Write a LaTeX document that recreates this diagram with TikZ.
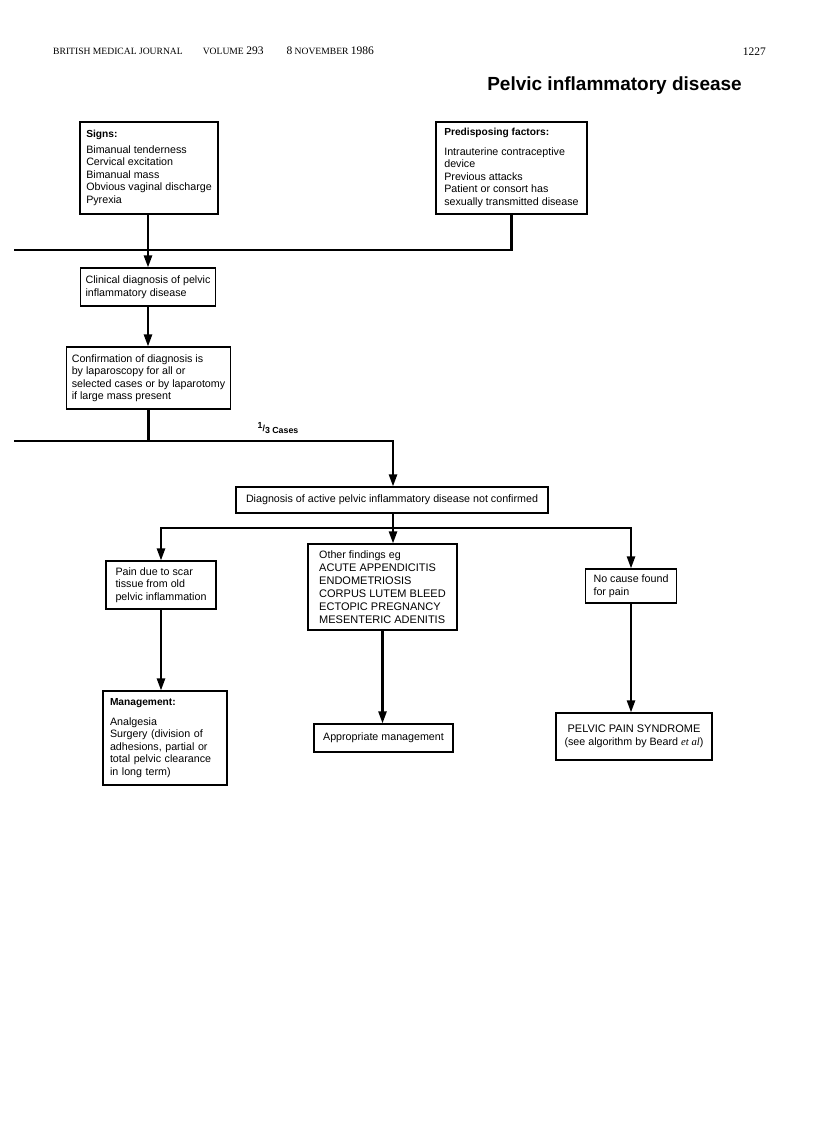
\documentclass[tikz,border=0pt]{standalone}
\usepackage{fontspec}
\setmainfont{Liberation Serif}
\setsansfont{Liberation Sans}
\usetikzlibrary{arrows.meta}
\newcommand\hdfont{\bfseries\fontsize{10.2}{12.4}\selectfont}
\newcommand\bigdig{\fontsize{11.5}{12}\selectfont}
\begin{document}
\begin{tikzpicture}[x=1pt,y=-1pt,
  box/.style={draw, line width=1.1pt, font=\sffamily\fontsize{10.7}{12.5}\selectfont, inner ysep=3pt},
  lbox/.style={box, align=left, inner xsep=5pt},
  cbox/.style={box, align=center, inner xsep=4pt},
  ln/.style={line width=2.3pt},
  arr/.style={ln, -{Triangle[width=8pt,length=12pt]}}
]
\useasboundingbox (0,0) rectangle (816,1142);

% header
\node[anchor=base west, inner sep=0pt, font=\rmfamily\fontsize{9.6}{10}\selectfont] (hdr) at (53,55)
  {BRITISH MEDICAL JOURNAL\hspace{20pt}VOLUME {\bigdig 293}\hspace{23pt}{\bigdig 8} NOVEMBER {\bigdig 1986}};
\node[anchor=base east, inner sep=0pt, font=\rmfamily\fontsize{11.5}{11}\selectfont] (page) at (766,56) {1227};
\node[anchor=base east, inner sep=0pt, font=\sffamily\bfseries\fontsize{19}{19}\selectfont] (title) at (742,91) {Pelvic inflammatory disease};

% boxes
\node[lbox, minimum width=138pt, minimum height=92pt] (signs) at (149,168)
  {{\hdfont Signs:}\\[3pt]Bimanual tenderness\\Cervical excitation\\Bimanual mass\\Obvious vaginal discharge\\Pyrexia};
\node[lbox, minimum width=151pt, minimum height=92pt] (predisp) at (511.5,168)
  {{\hdfont Predisposing factors:}\\[7pt]Intrauterine contraceptive\\device\\Previous attacks\\Patient or consort has\\sexually transmitted disease};
\node[lbox, minimum width=132pt, minimum height=38pt] (clinical) at (148,287)
  {Clinical diagnosis of pelvic\\inflammatory disease};
\node[lbox, minimum width=160pt, minimum height=62pt] (confirm) at (148.5,378)
  {Confirmation of diagnosis is\\by laparoscopy for all or\\selected cases or by laparotomy\\if large mass present};
\node[cbox, minimum width=312pt, minimum height=26pt] (diag) at (392,500)
  {Diagnosis of active pelvic inflammatory disease not confirmed};
\node[lbox, minimum width=110pt, minimum height=48pt] (pain) at (161,585)
  {Pain due to scar\\tissue from old\\pelvic inflammation};
\node[lbox, minimum width=149pt, minimum height=86pt, font=\sffamily\fontsize{11}{12.9}\selectfont] (other) at (382.5,587)
  {{\fontsize{10.7}{12.4}\selectfont Other findings eg}\\ACUTE APPENDICITIS\\ENDOMETRIOSIS\\CORPUS LUTEM BLEED\\ECTOPIC PREGNANCY\\MESENTERIC ADENITIS};
\node[lbox, minimum width=91pt, minimum height=34pt] (nocause) at (631,586)
  {No cause found\\for pain};
\node[lbox, inner xsep=7pt, text width=110pt, minimum height=94pt] (mgmt) at (165,738)
  {{\hdfont Management:}\\[7pt]Analgesia\\Surgery (division of\\adhesions, partial or\\total pelvic clearance\\in long term)};
\node[cbox, minimum width=139pt, minimum height=28pt] (approp) at (383.5,738)
  {Appropriate management};
\node[cbox, minimum width=156pt, minimum height=47pt] (pps) at (634,736.5)
  {{\fontsize{11}{13}\selectfont PELVIC PAIN SYNDROME}\\(see algorithm by Beard {\rmfamily\itshape et al})};

\node[inner sep=0pt, font=\sffamily\bfseries\fontsize{8.8}{9}\selectfont] (frac) at (278,428)
  {\raisebox{3pt}{1}/\raisebox{-1.5pt}{3 Cases}};

% connectors
\coordinate (L1) at (14,250);
\coordinate (L2) at (14,441);
\coordinate (B) at (393,528);

\draw[ln] (predisp.south) |- (L1);
\draw[arr] (signs.south -| clinical.north) -- (clinical.north);
\draw[arr] (clinical.south) -- (confirm.north -| clinical.south);
\draw[ln] (confirm.south) -- (confirm.south |- L2);
\draw[arr] (L2) -| (diag.north -| B);
\draw[ln] (diag.south -| B) -- (B);
\draw[arr] (B) -- (other.north -| B);
\draw[arr] (B) -| (pain.north);
\draw[arr] (B) -| (nocause.north);
\draw[arr] (pain.south) -- (mgmt.north -| pain.south);
\draw[arr] (other.south) -- (approp.north -| other.south);
\draw[arr] (nocause.south) -- (pps.north -| nocause.south);
\end{tikzpicture}
\end{document}
